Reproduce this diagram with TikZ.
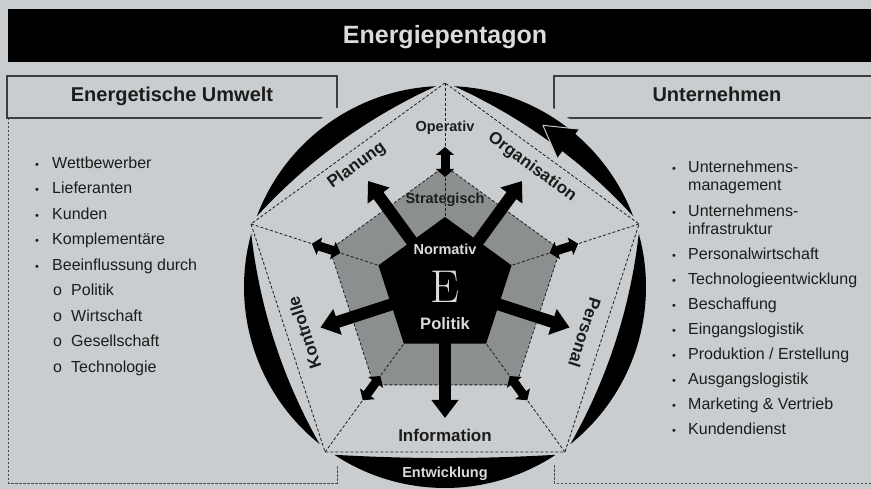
\documentclass[tikz,border=0pt]{standalone}
\usepackage{fontspec}
\setmainfont{Liberation Sans}
\newfontfamily\lmserif{Latin Modern Roman}
\usetikzlibrary{arrows.meta}
\definecolor{bg}{HTML}{C9CDCF}
\definecolor{ink}{HTML}{1C1C1C}
\definecolor{midgray}{HTML}{8C8F90}
\definecolor{pale}{HTML}{DADCDC}
\tikzset{
  hdr/.style={draw=ink!85, line width=1.1pt, fill=bg},
  listbox/.style={draw=ink!80, line width=0.8pt, dash pattern=on 2.5pt off 1.5pt},
  item/.style={anchor=base west, inner sep=0pt, text=ink, font=\fontsize{16}{18}\selectfont},
  dot/.style={anchor=base, inner sep=0pt, text=ink, font=\fontsize{11}{11}\selectfont},
  guide/.style={draw=ink, line width=0.8pt, dash pattern=on 3pt off 2pt},
  bigarrow/.style={draw=black, line width=12pt, -{Triangle[width=26pt,length=18pt]}},
  stub/.style={draw=black, line width=9pt, {Triangle[width=18pt,length=8pt]}-{Triangle[width=18pt,length=8pt]}},
  lbl/.style={font=\bfseries\fontsize{17}{17}\selectfont, text=ink},
  lvl/.style={font=\bfseries\fontsize{14.5}{14.5}\selectfont, anchor=base},
}
\begin{document}
\begin{tikzpicture}[x=1pt,y=1pt]
  \useasboundingbox (0,0) rectangle (871,489);
  \fill[bg] (0,0) rectangle (871,489);
  \fill[black] (8,427) rectangle (871,480);
  \node[font=\bfseries\fontsize{25}{25}\selectfont, text=pale, anchor=base] (title) at (445,445) {Energiepentagon};

  \draw[listbox] (8,371) -- (8,6) -- (337,6) -- (337,371);
  \draw[listbox] (875,6) -- (554,6) -- (554,371);
  \draw[hdr] (7,371) rectangle (337,413);
  \draw[hdr] (554,371) rectangle (880,413);
  \node[font=\bfseries\fontsize{20}{20}\selectfont, text=ink, anchor=base] (umwelt) at (172,387) {Energetische Umwelt};
  \node[font=\bfseries\fontsize{20}{20}\selectfont, text=ink, anchor=base] (firma) at (717,387) {Unternehmen};

  \foreach \txt [count=\i] in {Wettbewerber, Lieferanten, Kunden, Komplementäre, Beeinflussung durch} {
    \node[dot] (ldot\i) at (37, {320.5-25.5*(\i-1)}) {•};
    \node[item] (litem\i) at (52, {320.5-25.5*(\i-1)}) {\txt};
  }
  \foreach \txt [count=\i] in {Politik, Wirtschaft, Gesellschaft, Technologie} {
    \node[item] (lo\i) at (53, {193-25.5*(\i-1)}) {o};
    \node[item] (lsub\i) at (71, {193-25.5*(\i-1)}) {\txt};
  }

  \node[dot] (rdot1) at (674,316.5) {•};
  \node[item] (ritem1a) at (688,316.5) {Unternehmens-};
  \node[item] (ritem1b) at (688,298.5) {management};
  \node[dot] (rdot2) at (674,272.5) {•};
  \node[item] (ritem2a) at (688,272.5) {Unternehmens-};
  \node[item] (ritem2b) at (688,254.5) {infrastruktur};
  \foreach \txt [count=\i] in {Personalwirtschaft, Technologieentwicklung, Beschaffung, Eingangslogistik, Produktion / Erstellung, Ausgangslogistik, Marketing \& Vertrieb, Kundendienst} {
    \node[dot] (rdot\i x) at (674, {229.5-25*(\i-1)}) {•};
    \node[item] (rlist\i) at (688, {229.5-25*(\i-1)}) {\txt};
  }

  \fill[bg] (445,202) circle (209);
  \begin{scope}[shift={(445,202)}]
    \foreach \a/\rc in {18/186.5, 90/186.5, 162/186.5, 234/175.6, 306/186.5}
      \fill[black] (\a+2.6:201) arc[start angle=\a+2.6, end angle=\a+69.4, radius=201]
        .. controls (\a+47.4:\rc) and (\a+24.6:\rc) .. cycle;
    \fill[black] (58.8:189) -- (49.7:207) -- (49:171) -- cycle;
    \draw[gray!45, line width=1pt, line join=round] (49.7:207) -- (58.8:189) -- (49:171);

    \draw[guide] (90:204) -- (162:204) -- (234:204) -- (306:204) -- (18:204) -- cycle;
    \filldraw[fill=midgray, guide] (90:121) -- (162:121) -- (234:121) -- (306:121) -- (18:121) -- cycle;
    \foreach \a in {18,90,162,234,306} {
      \draw[guide] (\a:204) -- (\a:70);
      \draw[stub] (\a:110) -- (\a:140);
    }
    \fill[black] (90:70) -- (162:70) -- (234:70) -- (306:70) -- (18:70) -- cycle;
    \foreach \a in {54,126,198,270,342}
      \draw[bigarrow] (\a:45) -- (\a:131);

    \node[lvl, text=ink] (operativ) at (0,155) {Operativ};
    \node[lvl, text=ink] (strategisch) at (0,83) {Strategisch};
    \node[lvl, text=pale] (normativ) at (0,32) {Normativ};
    \node[anchor=base, text=pale, font=\lmserif\fontsize{46}{46}\selectfont] (energie) at (0,-16) {E};
    \node[lvl, text=pale, font=\bfseries\fontsize{16.5}{16.5}\selectfont] (politik) at (0,-43) {Politik};

    \node[lbl, rotate=36] (planung) at (126:150) {Planung};
    \node[lbl, rotate=-36] (organisation) at (54:148) {Organisation};
    \node[lbl, rotate=108] (kontrolle) at (198:148) {Kontrolle};
    \node[lbl, rotate=-108] (personal) at (342:147) {Personal};
    \node[lbl, anchor=base] (information) at (0,-155) {Information};
    \node[lvl, text=pale] (entwicklung) at (0,-191) {Entwicklung};
  \end{scope}
\end{tikzpicture}
\end{document}
